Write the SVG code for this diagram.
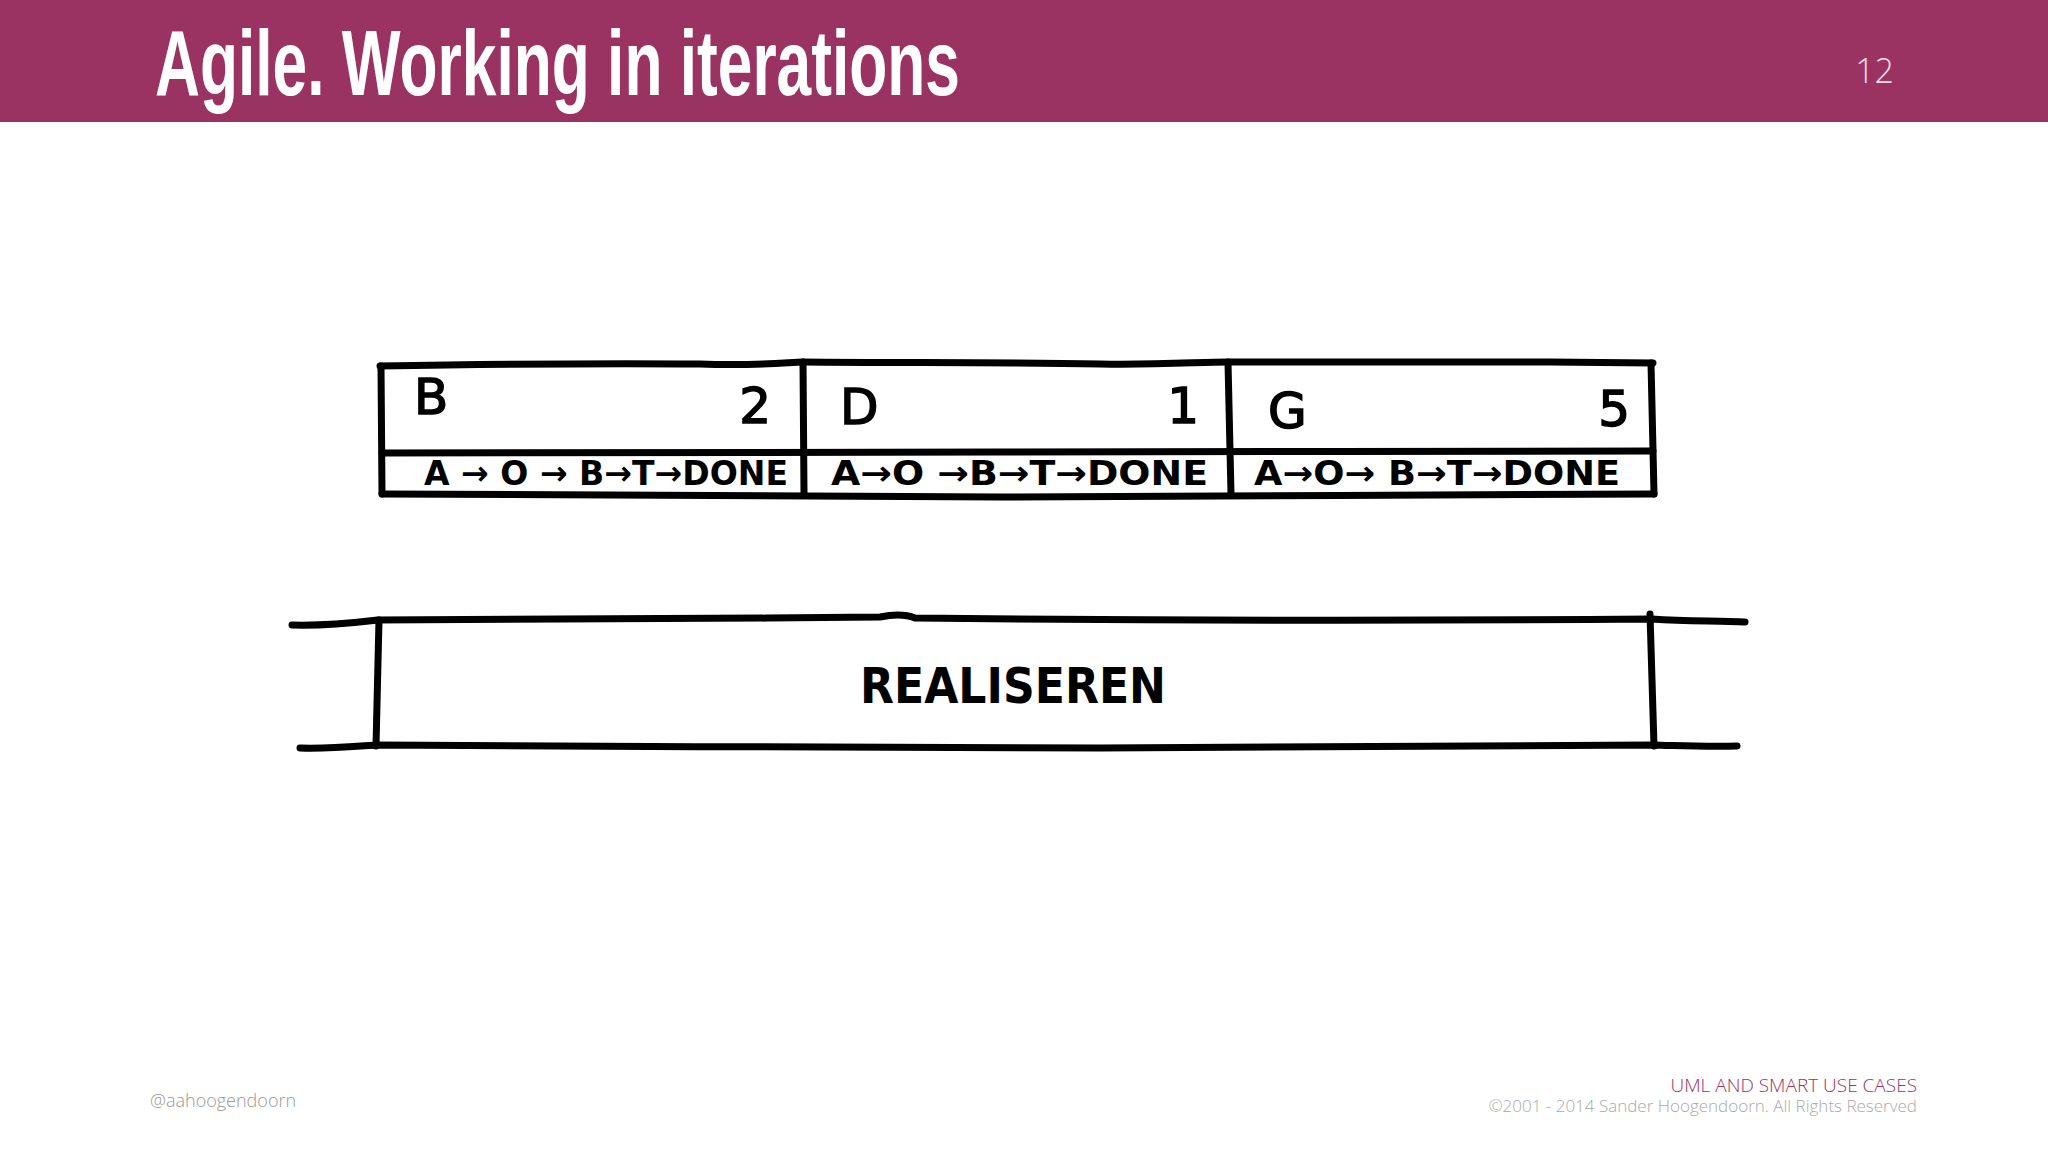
<svg xmlns="http://www.w3.org/2000/svg" width="2048" height="1152" viewBox="0 0 2048 1152">
<style>
.ink{fill:none;stroke:#000;stroke-width:7;stroke-linecap:round;stroke-linejoin:round}
.hand{font-family:"DejaVu Sans","Liberation Sans",sans-serif;font-weight:bold;fill:#000}
.big{font-family:"DejaVu Sans","Liberation Sans",sans-serif;font-size:50px;fill:#000;stroke:#000;stroke-width:1.5}
.flow{font-family:"DejaVu Sans","Liberation Sans",sans-serif;font-weight:bold;font-size:34px;fill:#000}
.foot{font-family:"Open Sans","Noto Sans",sans-serif;font-weight:300}
</style>
<rect x="0" y="0" width="2048" height="1152" fill="#fff"/>
<g id="header">
<rect x="0" y="0" width="2048" height="122" fill="#9a3362"/>
<text x="155" y="95" font-family="'Liberation Sans',Arial,sans-serif" font-weight="bold" font-size="92" fill="#fff" textLength="805" lengthAdjust="spacingAndGlyphs">Agile. Working in iterations</text>
<text x="1894" y="83" text-anchor="end" class="foot" font-size="34" fill="#f4dce8">12</text>
</g>
<g id="iterations">
<path class="ink" d="M380,366 C500,364 600,363 700,364 C760,366 790,362 803,362 C900,363 1000,362 1100,364 C1160,365 1200,362 1228,362 C1350,362 1450,361 1550,362 L1653,363"/>
<path class="ink" d="M381,366 L382,494"/>
<path class="ink" d="M803,362 L804,494"/>
<path class="ink" d="M1228,362 L1231,494"/>
<path class="ink" d="M1651,363 L1654,494"/>
<path class="ink" d="M382,453 C600,451 800,454 1000,452 C1200,451 1450,452 1653,451"/>
<path class="ink" d="M382,494 C600,496 800,495 1000,497 C1200,496 1450,495 1654,494"/>
</g>
<g id="story-b">
<text class="big" x="414" y="414">B</text>
<text class="big" x="771" y="423" text-anchor="end">2</text>
<text class="flow" x="424" y="485" textLength="364" lengthAdjust="spacingAndGlyphs">A → O → B→T→DONE</text>
</g>
<g id="story-d">
<text class="big" x="840" y="424">D</text>
<text class="big" x="1199" y="423" text-anchor="end">1</text>
<text class="flow" x="831" y="485" textLength="377" lengthAdjust="spacingAndGlyphs">A→O →B→T→DONE</text>
</g>
<g id="story-g">
<text class="big" x="1268" y="428">G</text>
<text class="big" x="1630" y="426" text-anchor="end">5</text>
<text class="flow" x="1254" y="485" textLength="366" lengthAdjust="spacingAndGlyphs">A→O→ B→T→DONE</text>
</g>
<g id="realiseren">
<path class="ink" d="M292,625 C330,626 360,622 377,620 C500,620 700,619 880,617 C895,614 905,614 915,618 C1100,620 1400,621 1652,619 C1690,622 1720,620 1745,622"/>
<path class="ink" d="M300,748 C330,749 360,746 377,745 C600,746 900,748 1100,748 C1400,747 1550,746 1652,745 C1690,746 1710,747 1737,746"/>
<path class="ink" stroke-width="5" d="M379,620 L376,746"/>
<path class="ink" stroke-width="5" d="M1650,614 L1654,746"/>
<text class="hand" x="860" y="703" font-size="50" textLength="306" lengthAdjust="spacingAndGlyphs">REALISEREN</text>
</g>
<g id="connectors"></g>
<g id="footer">
<text x="150" y="1107" class="foot" font-size="18" fill="#999">@aahoogendoorn</text>
<text x="1917" y="1092" text-anchor="end" class="foot" font-size="19" fill="#9a3362">UML AND SMART USE CASES</text>
<text x="1917" y="1112" text-anchor="end" class="foot" font-size="17" fill="#aaa">©2001 - 2014 Sander Hoogendoorn. All Rights Reserved</text>
</g>
</svg>
